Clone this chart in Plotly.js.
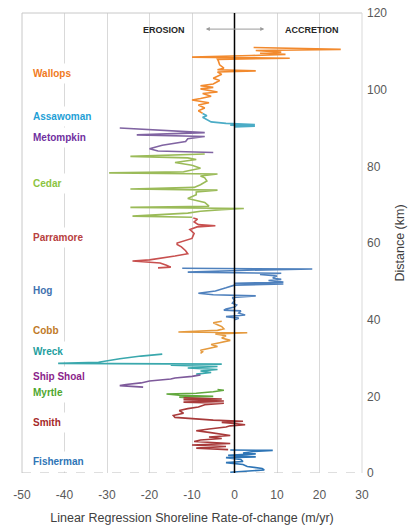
<!DOCTYPE html>
<html>
<head>
<meta charset="utf-8">
<script src="https://cdn.plot.ly/plotly-3.0.1.min.js"></script>
<style>html,body{margin:0;padding:0;background:#fff;}#chart{width:410px;height:527px;}</style>
</head>
<body>
<div id="chart"></div>
<script>
// ---- Data (distance km, rate m/yr) ----
const wallopsDist = [111.0,110.5,110.2,109.8,109.5,109.2,108.9,108.5,108.2,107.9,107.5,106.5,105.6,105.2,104.9,104.6,104.0,103.0,102.4,101.5,101.0,100.6,100.2,99.4,99.0,98.3,97.7,97.3,96.6,96.0,95.2,94.5,93.8];
const wallopsRate = [4.5,25,5,11,6,12,4,-10,13,-4,-3.8,-3.5,-2.5,-4,5,-4,-3,-5,-3.5,-5,-8,-5,-8,-4,-7.5,-5.5,-8,-10,-6,-8.5,-7,-8.5,-7.5];
const assawomanDist = [93.8,93.2,92.8,92.3,91.6,91.2,90.9,90.7,90.5,90.3];
const assawomanRate = [-7.5,-6.5,-7.5,-6.5,-5.5,-2,4.8,-1,4.8,0];
const metompkinDist = [90.0,89.2,88.8,88.2,87.8,87.2,86.5,85.5,84.6,84.0,83.6];
const metompkinRate = [-27,-13,-7,-23,-7,-11,-11.5,-17,-20,-18,-5];
const cedarDist = [83.2,82.6,82.2,81.8,81.0,80.3,79.5,78.6,78.3,78.0,77.5,77.0,76.2,75.2,74.5,74.1,73.8,73.3,72.6,71.6,70.6,69.6,69.3,69.0,68.7,68.3,67.8,67.0,66.7];
const cedarRate = [-7,-24.5,-11,-9,-14,-10,-8,-12,-29.5,-4,-8,-7,-6.5,-8,-9.5,-24.5,-4,-9,-9,-11,-7,-6,-24.5,2.2,-3,-8,-11,-24,-10];
const parramoreDist = [66.5,66.2,65.5,64.8,64.5,64.2,63.5,62.5,61.2,60.0,59.6,59.0,58.0,57.2,56.6,56.1,55.6,55.3,54.8,54.2,53.7,53.5];
const parramoreRate = [-9.7,-8.7,-9.5,-8.5,-4.5,-8.8,-10.5,-9.5,-10,-13.5,-13.5,-12.5,-11.5,-11,-14,-17.5,-20,-24,-17.5,-16,-15,-18];
const hogDist = [53.4,53.2,52.9,52.4,52.1,51.8,51.4,50.9,50.5,50.2,49.8,49.5,49.3,49.0,48.3,47.5,46.9,46.5,46.2,45.8,45.0,44.3,43.8,43.3,42.8,42.5,42.3,41.7,41.2,40.8,40.4,40.0];
const hogRate = [-12.3,18.3,3,-11,11,6,10,9,11,8,11.5,0,11.5,0,-2,-4.5,-8.5,-5,5,-0.5,0,-0.5,0.5,0,-2,-2.5,1.5,1,2.5,-2,1,0];
const cobbDist = [39.6,39.2,38.7,38.2,37.6,37.2,36.8,36.6,36.3,35.8,35.2,34.6,34.0,33.5,33.0,32.4,32.0,31.6,31.2];
const cobbRate = [-3,-5,-4,-3,-2.5,-4,-13.2,3,-4.5,-2,-3,-1,-3.5,-5.5,-4,-6.5,-8,-7.5,-8];
const wreckDist = [31.0,30.5,29.8,29.2,28.9,28.6,28.4,28.1,27.8,27.4,27.0,26.6,26.2,25.8];
const wreckRate = [-17,-22,-27,-30,-32,-41.5,-3,-15,-4,-11,-4,-8,-5.5,-9];
const shipShoalDist = [25.6,25.2,24.8,24.5,24.0,23.5,23.1,22.8,22.4];
const shipShoalRate = [-8,-10,-14,-15,-20,-22,-25.5,-27,-21.5];
const myrtleDist = [21.8,21.6,21.2,20.8,20.6,20.3,20.0,19.8,19.6];
const myrtleRate = [-4,-2.5,-5,-9,-16,-13,-5,-13,-10];
const smithDist = [19.6,19.3,19.1,18.8,18.5,18.2,17.8,17.2,16.8,16.3,15.6,15.0,14.5,14.2,13.8,13.5,13.2,12.9,12.6,12.3,12.0,11.5,11.0,10.6,10.2,9.8,9.4,9.0,8.6,8.2,7.7,7.3,6.9,6.5,6.1];
const smithRate = [-12,-3,-12,-2.5,-12,-2.5,-7,-8.5,-11,-13,-12,-14.4,-14,-10,-5,2,-3,0,2.5,-1,-2,-6,-9,-6,-3,-1,-6,-3,-8,-9.5,-1,-10,-2,-9,-1.5];
const fishermanDist = [6.0,5.9,5.6,5.2,5.0,4.6,4.2,4.0,3.5,3.0,2.7,2.2,1.7,1.2,0.8,0.5,0.2];
const fishermanRate = [-1,9,4.5,2,5,-1.5,5,-2,1.5,2,-2,2,3,6.5,7,2,-1];

const islandNames = ["Wallops","Assawoman","Metompkin","Cedar","Parramore","Hog","Cobb","Wreck","Ship Shoal","Myrtle","Smith","Fisherman"];
const labelDist = [104.3,92.9,87.4,75.4,61.5,47.7,37.3,31.6,25.3,21.1,13.3,3.1];

const xTickVals = [-50,-40,-30,-20,-10,0,10,20,30];
const xTickText = ["-50","-40","-30","-20","-10","0","10","20","30"];
const yTickVals = [0,20,40,60,80,100,120];

// ---- styles ----
const lineColors = ["#F28A2E","#4BACC6","#8064A2","#9BBB59","#C8504F","#4F81BD","#E59A3E","#3AA8AD","#7E5A9B","#62A83E","#A83A3A","#2E75B6"];
const labelColors = ["#F07A22","#1F9FD6","#7030A0","#8CC43F","#B8403E","#3F72B0","#BF7A28","#1E9E9E","#8B1F8B","#4EA72E","#A52A2A","#2E75B6"];

const series = [
  [wallopsRate, wallopsDist],[assawomanRate, assawomanDist],[metompkinRate, metompkinDist],
  [cedarRate, cedarDist],[parramoreRate, parramoreDist],[hogRate, hogDist],[cobbRate, cobbDist],
  [wreckRate, wreckDist],[shipShoalRate, shipShoalDist],[myrtleRate, myrtleDist],[smithRate, smithDist],
  [fishermanRate, fishermanDist]
];

const traces = series.map((s, i) => ({
  type: 'scatter', mode: 'lines', x: s[0], y: s[1], name: islandNames[i],
  line: {color: lineColors[i], width: 1.6}, hoverinfo: 'skip'
}));

const font = "Liberation Sans, Arial, sans-serif";

const annotations = islandNames.map((n, i) => ({
  x: -48.7, y: labelDist[i], xref: 'x', yref: 'y', xanchor: 'left', yanchor: 'middle',
  text: '<b>' + n + '</b>', showarrow: false, bgcolor: 'white', borderpad: 4,
  font: {family: font, size: 10, color: labelColors[i]}
}));
annotations.push({x: -16.5, y: 115.6, xref: 'x', yref: 'y', text: '<b>EROSION</b>', showarrow: false,
  font: {family: font, size: 9, color: '#262626'}});
annotations.push({x: 18.3, y: 115.6, xref: 'x', yref: 'y', text: '<b>ACCRETION</b>', showarrow: false,
  font: {family: font, size: 9, color: '#262626'}});
annotations.push({x: 7.0, y: 115.8, xref: 'x', yref: 'y', ax: -7.1, ay: 115.8, axref: 'x', ayref: 'y',
  text: '', showarrow: true, arrowhead: 2, arrowside: 'end+start', arrowsize: 0.8, arrowwidth: 1, arrowcolor: '#9a9a9a'});

const shapes = [
  {type: 'line', xref: 'paper', yref: 'paper', x0: 0, x1: 1, y0: 1, y1: 1, line: {color: '#c8c8c8', width: 1}},
  {type: 'line', xref: 'paper', yref: 'paper', x0: 0, x1: 0, y0: 0, y1: 1, line: {color: '#c8c8c8', width: 1}},
  {type: 'line', xref: 'paper', yref: 'paper', x0: 1, x1: 1, y0: 0, y1: 1, line: {color: '#d9d9d9', width: 1}},
  {type: 'line', xref: 'paper', yref: 'y', x0: 0, x1: 1, y0: 0, y1: 0, line: {color: '#bfbfbf', width: 1, dash: 'dash'}},
  {type: 'line', xref: 'x', yref: 'y', x0: 0, x1: 0, y0: 0, y1: 120, layer: 'above', line: {color: '#000000', width: 1.5}}
];

const layout = {
  width: 410, height: 527,
  margin: {l: 22, r: 48, t: 13, b: 54},
  paper_bgcolor: '#ffffff', plot_bgcolor: '#ffffff',
  showlegend: false,
  xaxis: {
    range: [-50, 30], tickvals: xTickVals, ticktext: xTickText,
    showgrid: true, gridcolor: '#d9d9d9', gridwidth: 1, zeroline: false, showline: false, ticks: '',
    ticklabelstandoff: 13,
    tickfont: {family: font, size: 12, color: '#595959'},
    title: {text: 'Linear Regression Shoreline Rate-of-change (m/yr)', standoff: 12,
      font: {family: font, size: 12.5, color: '#404040'}}
  },
  yaxis: {
    range: [0, 120], side: 'right', tickvals: yTickVals,
    showgrid: false, zeroline: false, showline: false, ticks: '',
    ticklabelstandoff: 4,
    tickfont: {family: font, size: 12, color: '#595959'},
    title: {text: 'Distance (km)', standoff: 8, font: {family: font, size: 12.5, color: '#404040'}}
  },
  annotations: annotations,
  shapes: shapes
};

Plotly.newPlot('chart', traces, layout, {displayModeBar: false, staticPlot: true});
</script>
</body>
</html>
